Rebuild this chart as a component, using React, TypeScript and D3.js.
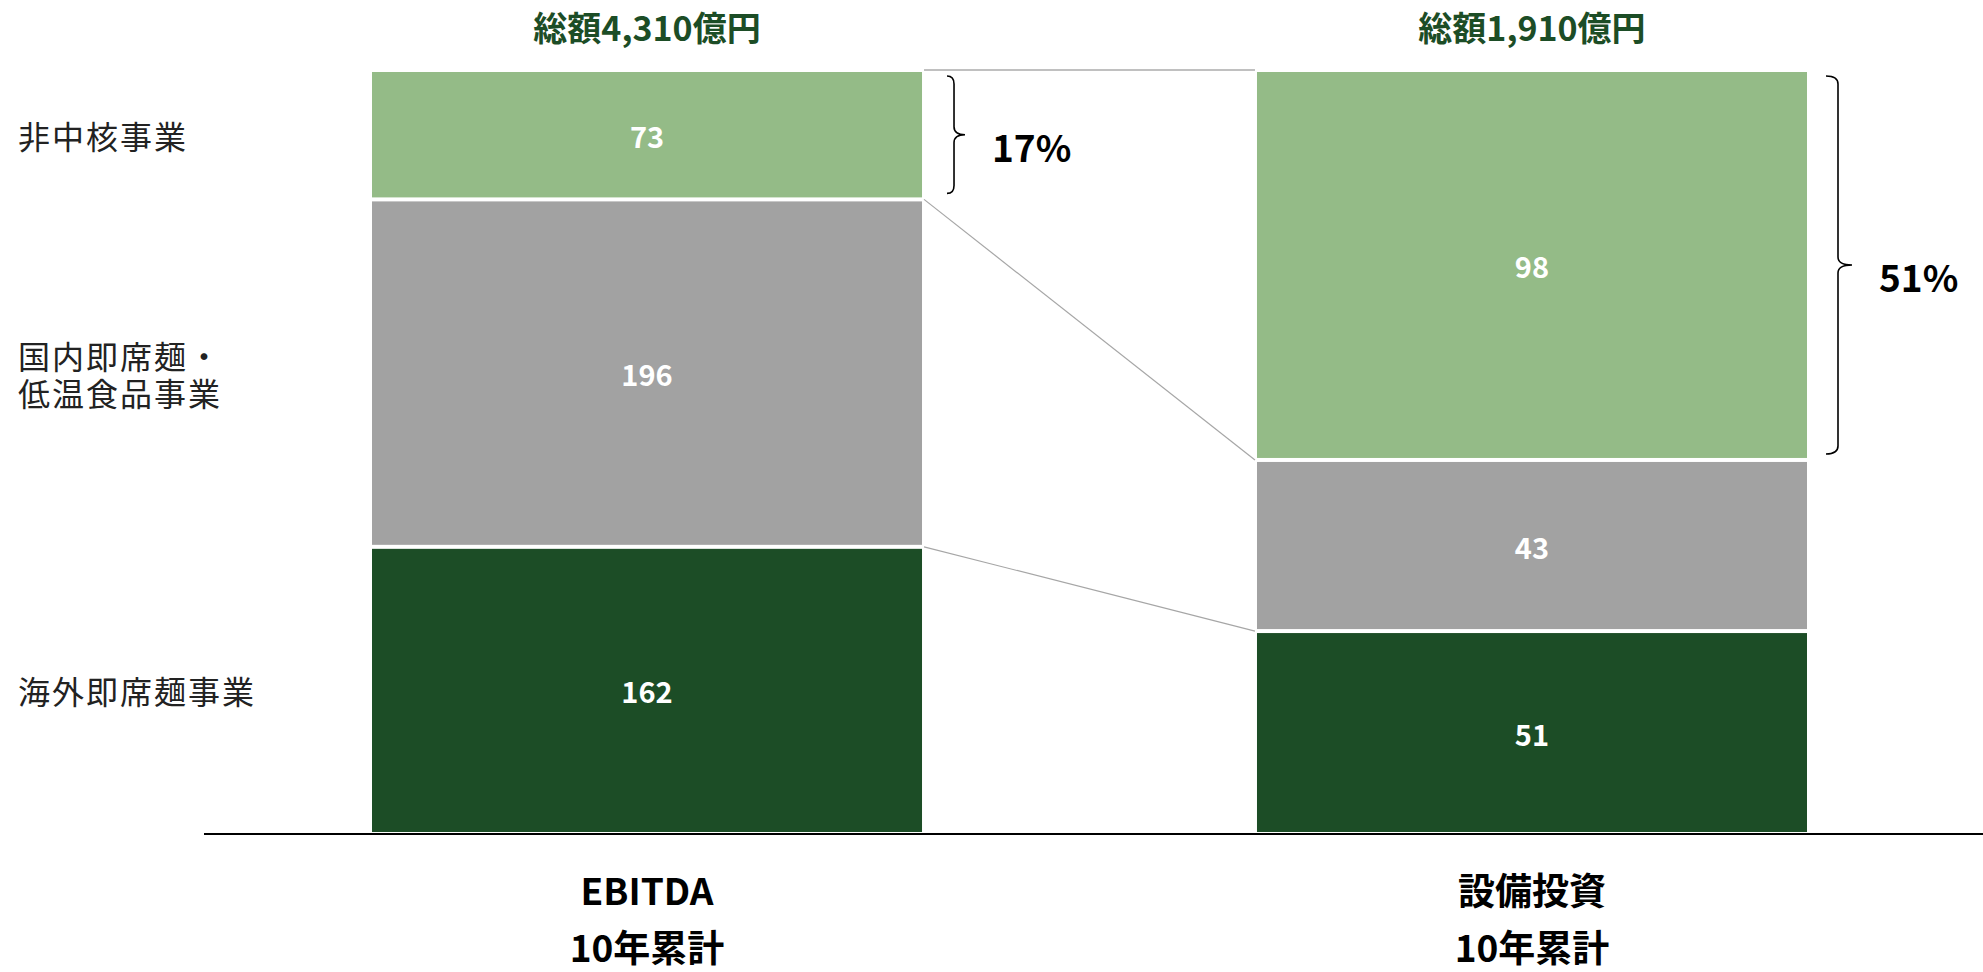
import React from 'react';
import * as d3 from 'd3';

const columns = ['EBITDA', '設備投資'];
const columnSub = '10年累計';
const totalLabels = ['総額4,310億円', '総額1,910億円'];
const seriesKeys = ['overseas', 'domestic', 'noncore'];
const overseas = [162, 51];
const domestic = [196, 43];
const noncore = [73, 98];
const shareLabels = ['17%', '51%'];
const categoryLabels: Record<string, string[]> = {
  noncore: ['非中核事業'],
  domestic: ['国内即席麺・', '低温食品事業'],
  overseas: ['海外即席麺事業'],
};
const colors: Record<string, string> = {
  noncore: '#94bb87',
  domestic: '#a2a2a2',
  overseas: '#1c4d26',
};

const W = 1983;
const H = 972;
const FONT = '"Noto Sans CJK JP", "Noto Sans", sans-serif';

export default function App() {
  const rows = columns.map((c, i) => ({
    col: c,
    overseas: overseas[i],
    domestic: domestic[i],
    noncore: noncore[i],
  }));
  const stacked = d3.stack<any>().keys(seriesKeys).offset(d3.stackOffsetExpand)(rows);

  const x = d3.scaleBand<string>().domain(columns).range([372, 1807]).paddingInner(0.3785).paddingOuter(0);
  const y = d3.scaleLinear().domain([0, 1]).range([834, 70]);
  const bw = x.bandwidth();

  const x0 = x(columns[0])!;
  const x1 = x(columns[1])!;

  const connectors = stacked.map((s) => ({
    yl: y(s[0][1]),
    yr: y(s[1][1]),
    key: s.key,
  }));

  const noncoreSeries = stacked.find((s) => s.key === 'noncore')!;

  const bracePath = (xa: number, xb: number, xt: number, ya: number, yb: number) => {
    const ym = (ya + yb) / 2;
    const r = 8;
    return `M${xa},${ya} Q${xb},${ya} ${xb},${ya + r} L${xb},${ym - r} Q${xb},${ym} ${xt},${ym} Q${xb},${ym} ${xb},${ym + r} L${xb},${yb - r} Q${xb},${yb} ${xa},${yb}`;
  };

  return (
    <svg width={W} height={H} style={{ position: 'absolute', left: 0, top: 0, background: '#fff' }} fontFamily={FONT}>
      {stacked.map((s) =>
        s.map((d, i) => {
          const top = y(d[1]);
          const bot = y(d[0]);
          return (
            <rect
              key={s.key + i}
              x={x(columns[i])!}
              y={top + 2}
              width={bw}
              height={Math.max(0, bot - top - 4)}
              fill={colors[s.key]}
            />
          );
        })
      )}
      {stacked.map((s) =>
        s.map((d, i) => {
          const mid = (y(d[0]) + y(d[1])) / 2;
          const v = (rows[i] as any)[s.key];
          return (
            <text
              key={'v' + s.key + i}
              x={x(columns[i])! + bw / 2}
              y={mid}
              textAnchor="middle"
              dominantBaseline="central"
              fill="#fff"
              fontWeight={700}
              fontSize={29}
            >
              {v}
            </text>
          );
        })
      )}
      {connectors.map((c) => (
        <line
          key={'c' + c.key}
          x1={x0 + bw + 2}
          x2={x1 - 2}
          y1={c.yl}
          y2={c.yr}
          stroke={c.key === 'noncore' ? '#c0c0c0' : '#a6a6a6'}
          strokeWidth={c.key === 'noncore' ? 2 : 1.2}
        />
      ))}
      <line x1={204} x2={W} y1={834} y2={834} stroke="#000" strokeWidth={2} />
      {columns.map((c, i) => (
        <text
          key={'t' + c}
          x={x(c)! + bw / 2}
          y={26}
          textAnchor="middle"
          dominantBaseline="central"
          fill="#1c4d26"
          fontWeight={700}
          fontSize={34}
        >
          {totalLabels[i]}
        </text>
      ))}
      {columns.map((c) => (
        <g key={'b' + c}>
          <text x={x(c)! + bw / 2} y={889} textAnchor="middle" dominantBaseline="central" fill="#000" fontWeight={700} fontSize={37}>
            {c}
          </text>
          <text x={x(c)! + bw / 2} y={946} textAnchor="middle" dominantBaseline="central" fill="#000" fontWeight={700} fontSize={37}>
            {columnSub}
          </text>
        </g>
      ))}
      {stacked.map((s) => {
        const d = s[0];
        const mid = (y(d[0]) + y(d[1])) / 2;
        const lines = categoryLabels[s.key];
        const lh = 37;
        return (
          <text key={'cat' + s.key} x={18} dominantBaseline="central" fill="#222" fontSize={32} letterSpacing={2}>
            {lines.map((t, li) => (
              <tspan key={li} x={18} y={mid + (li - (lines.length - 1) / 2) * lh} dominantBaseline="central">
                {t}
              </tspan>
            ))}
          </text>
        );
      })}
      {columns.map((c, i) => {
        const ya = y(noncoreSeries[i][1]) + 6;
        const yb = y(noncoreSeries[i][0]) - 6;
        const xr = x(c)! + bw;
        const xa = xr + (i === 0 ? 25 : 19);
        const xb = xa + (i === 0 ? 7 : 12);
        const xt = xb + (i === 0 ? 11 : 14);
        const ym = (ya + yb) / 2;
        return (
          <g key={'br' + c}>
            <path d={bracePath(xa, xb, xt, ya, yb)} fill="none" stroke="#000" strokeWidth={1.6} />
            <text x={xt + 27} y={ym + 11} dominantBaseline="central" fill="#000" fontWeight={700} fontSize={37}>
              {shareLabels[i]}
            </text>
          </g>
        );
      })}
    </svg>
  );
}
